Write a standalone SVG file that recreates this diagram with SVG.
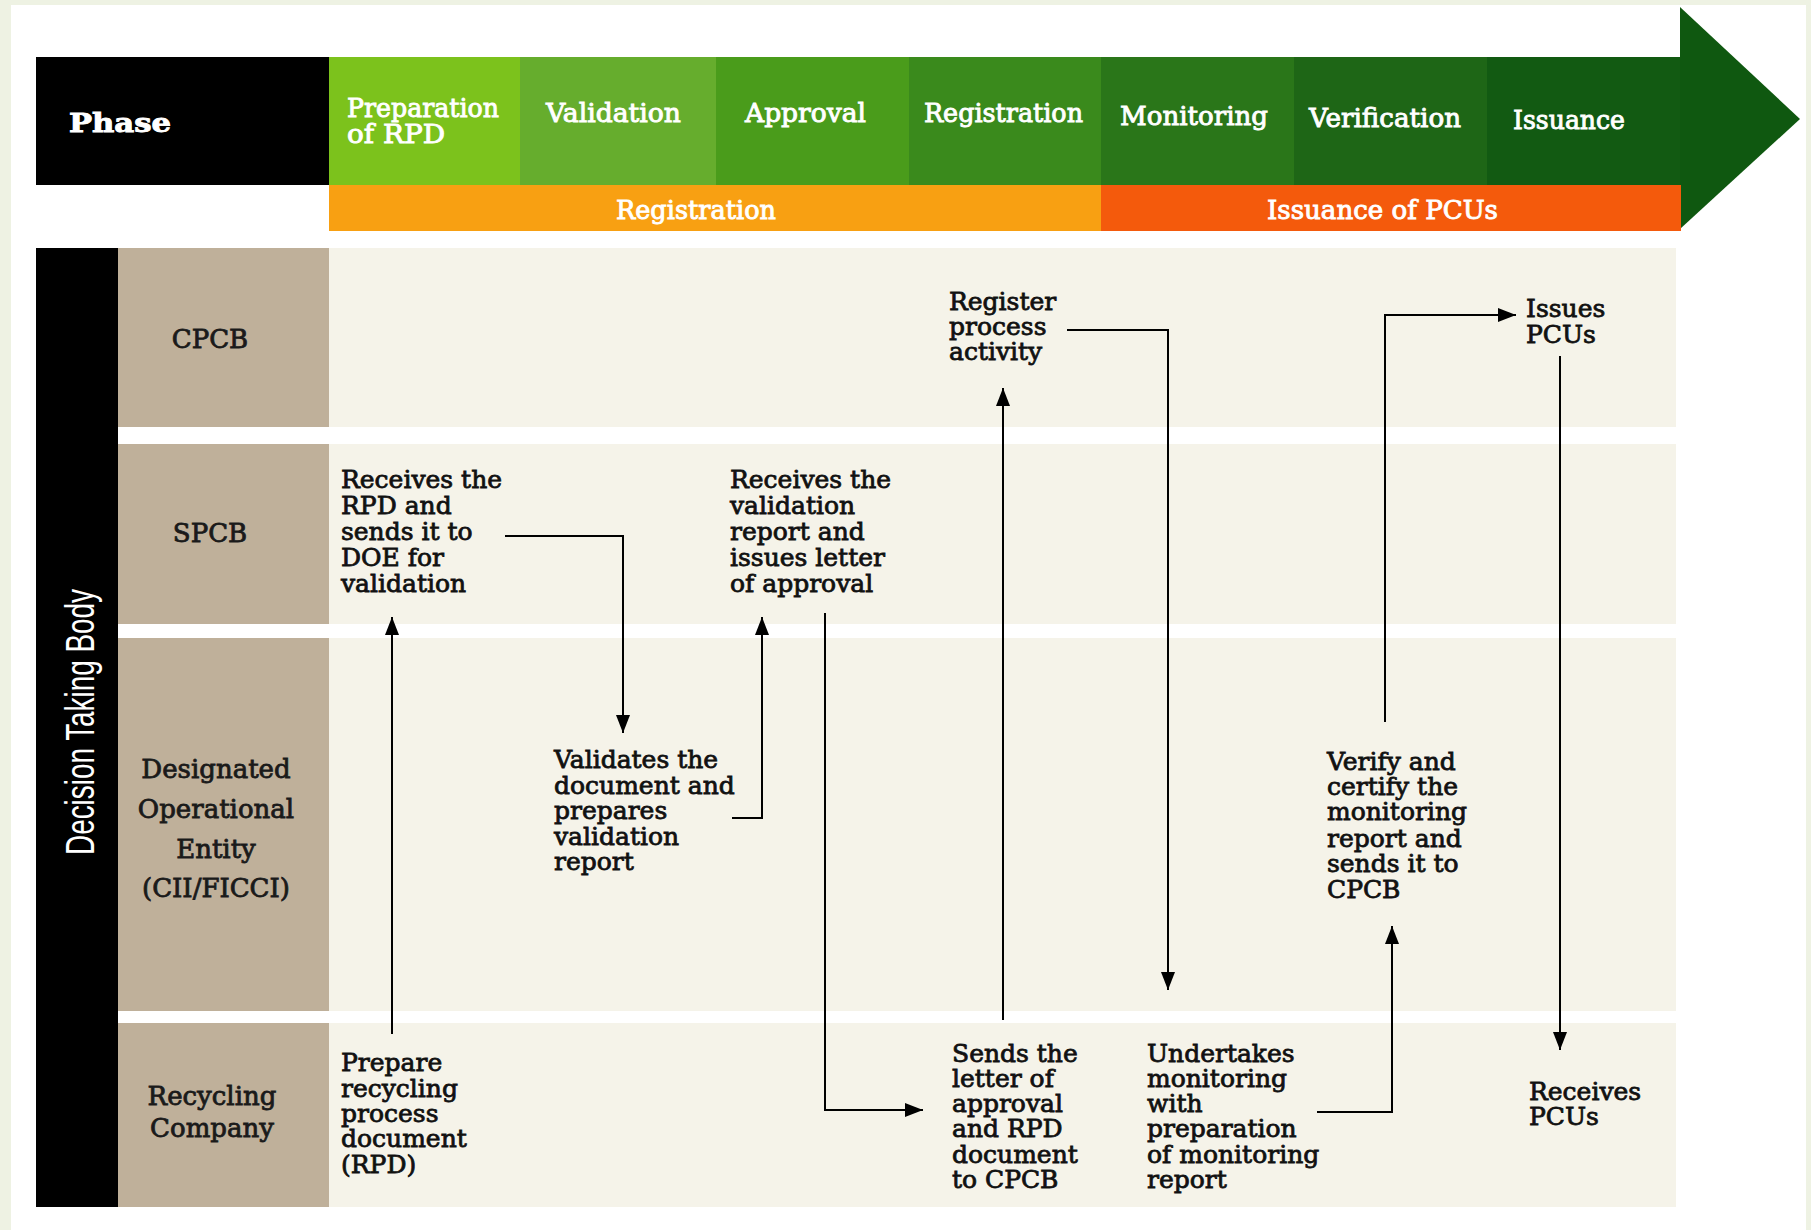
<svg xmlns="http://www.w3.org/2000/svg" width="1811" height="1230" viewBox="0 0 1811 1230">
<defs>
<marker id="ah" markerUnits="userSpaceOnUse" markerWidth="18" markerHeight="14" refX="18" refY="7" orient="auto">
<path d="M0,0 L18,7 L0,14 z" fill="#000"/>
</marker>
<style>
.hd{font-family:"DejaVu Serif","Liberation Serif",serif;fill:#fff;stroke:#fff;stroke-width:0.9px;font-size:26px}
.lb{font-family:"DejaVu Serif","Liberation Serif",serif;fill:#1a1a1a;stroke:#1a1a1a;stroke-width:0.8px;font-size:26px;text-anchor:middle}
.nd{font-family:"DejaVu Serif","Liberation Serif",serif;fill:#111;stroke:#111;stroke-width:0.8px;font-size:25px}
.tan{fill:#bfb09a}
.lane{fill:#f5f3e9}
.cn{fill:none;stroke:#000;stroke-width:2;marker-end:url(#ah)}
</style>
</defs>
<rect x="0" y="0" width="1811" height="1230" fill="#eef2e3"/>
<rect x="11" y="5" width="1795" height="1225" fill="#ffffff"/>

<g id="header">
<rect x="36" y="57" width="293" height="128" fill="#000"/>
<text class="hd" x="69" y="132" font-size="34" font-weight="bold" textLength="102" lengthAdjust="spacingAndGlyphs">Phase</text>
<rect x="329" y="57" width="191" height="128" fill="#7cc21c"/>
<rect x="520" y="57" width="196" height="128" fill="#66ad2d"/>
<rect x="716" y="57" width="193" height="128" fill="#4a9c1b"/>
<rect x="909" y="57" width="192" height="128" fill="#3a8a1c"/>
<rect x="1101" y="57" width="193" height="128" fill="#2a7619"/>
<rect x="1294" y="57" width="193" height="128" fill="#1e6616"/>
<rect x="1487" y="57" width="195" height="128" fill="#125a12"/>
<polygon points="1680,7 1800,119 1680,229" fill="#0f5810"/>
<rect x="329" y="185" width="772" height="46" fill="#f8a012"/>
<rect x="1101" y="185" width="580" height="46" fill="#f45a0c"/>
<text class="hd" x="347" y="117" textLength="152" lengthAdjust="spacingAndGlyphs">Preparation</text>
<text class="hd" x="347" y="143" textLength="98" lengthAdjust="spacingAndGlyphs">of RPD</text>
<text class="hd" x="546" y="122" textLength="135" lengthAdjust="spacingAndGlyphs">Validation</text>
<text class="hd" x="745" y="122" textLength="121" lengthAdjust="spacingAndGlyphs">Approval</text>
<text class="hd" x="924" y="122" textLength="159" lengthAdjust="spacingAndGlyphs">Registration</text>
<text class="hd" x="1120" y="125" textLength="148" lengthAdjust="spacingAndGlyphs">Monitoring</text>
<text class="hd" x="1309" y="127" textLength="152" lengthAdjust="spacingAndGlyphs">Verification</text>
<text class="hd" x="1513" y="129" textLength="112" lengthAdjust="spacingAndGlyphs">Issuance</text>
<text class="hd" x="616" y="219" textLength="160" lengthAdjust="spacingAndGlyphs">Registration</text>
<text class="hd" x="1267" y="219" textLength="231" lengthAdjust="spacingAndGlyphs">Issuance of PCUs</text>
</g>

<g id="lanes">
<rect x="36" y="248" width="82" height="959" fill="#000"/>
<text x="94" y="722" transform="rotate(-90 94 722)" text-anchor="middle" font-family="Liberation Sans Narrow, Liberation Sans, sans-serif" font-size="40" fill="#fff" textLength="266" lengthAdjust="spacingAndGlyphs">Decision Taking Body</text>
<rect class="tan" x="118" y="248" width="211" height="179"/>
<rect class="lane" x="329" y="248" width="1347" height="179"/>
<rect class="tan" x="118" y="444" width="211" height="180"/>
<rect class="lane" x="329" y="444" width="1347" height="180"/>
<rect class="tan" x="118" y="638" width="211" height="373"/>
<rect class="lane" x="329" y="638" width="1347" height="373"/>
<rect class="tan" x="118" y="1023" width="211" height="184"/>
<rect class="lane" x="329" y="1023" width="1347" height="184"/>
<text class="lb" x="210" y="348">CPCB</text>
<text class="lb" x="210" y="542">SPCB</text>
<text class="lb" x="216" y="778">Designated</text>
<text class="lb" x="216" y="818">Operational</text>
<text class="lb" x="216" y="858">Entity</text>
<text class="lb" x="216" y="897">(CII/FICCI)</text>
<text class="lb" x="212" y="1105">Recycling</text>
<text class="lb" x="212" y="1137">Company</text>
</g>

<g id="connectors">
<path class="cn" d="M392,1034 V617"/>
<path class="cn" d="M505,536 H623 V733"/>
<path class="cn" d="M732,818 H762 V617"/>
<path class="cn" d="M825,613 V1110 H923"/>
<path class="cn" d="M1003,1020 V388"/>
<path class="cn" d="M1067,330 H1168 V990"/>
<path class="cn" d="M1317,1112 H1392 V926"/>
<path class="cn" d="M1385,722 V315 H1516"/>
<path class="cn" d="M1560,356 V1050"/>
</g>

<g id="n-spcb-receive-rpd">
<text class="nd"><tspan x="341" y="488">Receives the</tspan><tspan x="341" y="514">RPD and</tspan><tspan x="341" y="540">sends it to</tspan><tspan x="341" y="566">DOE for</tspan><tspan x="341" y="592">validation</tspan></text>
</g>
<g id="n-doe-validate">
<text class="nd"><tspan x="554" y="768">Validates the</tspan><tspan x="554" y="794">document and</tspan><tspan x="554" y="819">prepares</tspan><tspan x="554" y="845">validation</tspan><tspan x="554" y="870">report</tspan></text>
</g>
<g id="n-spcb-approve">
<text class="nd"><tspan x="730" y="488">Receives the</tspan><tspan x="730" y="514">validation</tspan><tspan x="730" y="540">report and</tspan><tspan x="730" y="566">issues letter</tspan><tspan x="730" y="592">of approval</tspan></text>
</g>
<g id="n-cpcb-register">
<text class="nd"><tspan x="949" y="310">Register</tspan><tspan x="949" y="335">process</tspan><tspan x="949" y="360">activity</tspan></text>
</g>
<g id="n-cpcb-issue">
<text class="nd"><tspan x="1526" y="317">Issues</tspan><tspan x="1526" y="343">PCUs</tspan></text>
</g>
<g id="n-doe-verify">
<text class="nd"><tspan x="1327" y="770">Verify and</tspan><tspan x="1327" y="795">certify the</tspan><tspan x="1327" y="820">monitoring</tspan><tspan x="1327" y="847">report and</tspan><tspan x="1327" y="872">sends it to</tspan><tspan x="1327" y="898">CPCB</tspan></text>
</g>
<g id="n-rc-send">
<text class="nd"><tspan x="952" y="1062">Sends the</tspan><tspan x="952" y="1087">letter of</tspan><tspan x="952" y="1112">approval</tspan><tspan x="952" y="1137">and RPD</tspan><tspan x="952" y="1163">document</tspan><tspan x="952" y="1188">to CPCB</tspan></text>
</g>
<g id="n-rc-monitor">
<text class="nd"><tspan x="1147" y="1062">Undertakes</tspan><tspan x="1147" y="1087">monitoring</tspan><tspan x="1147" y="1112">with</tspan><tspan x="1147" y="1137">preparation</tspan><tspan x="1147" y="1163">of monitoring</tspan><tspan x="1147" y="1188">report</tspan></text>
</g>
<g id="n-rc-receive">
<text class="nd"><tspan x="1529" y="1100">Receives</tspan><tspan x="1529" y="1125">PCUs</tspan></text>
</g>
<g id="n-rc-prepare">
<text class="nd"><tspan x="341" y="1071">Prepare</tspan><tspan x="341" y="1097">recycling</tspan><tspan x="341" y="1122">process</tspan><tspan x="341" y="1147">document</tspan><tspan x="341" y="1173">(RPD)</tspan></text>
</g>
</svg>
